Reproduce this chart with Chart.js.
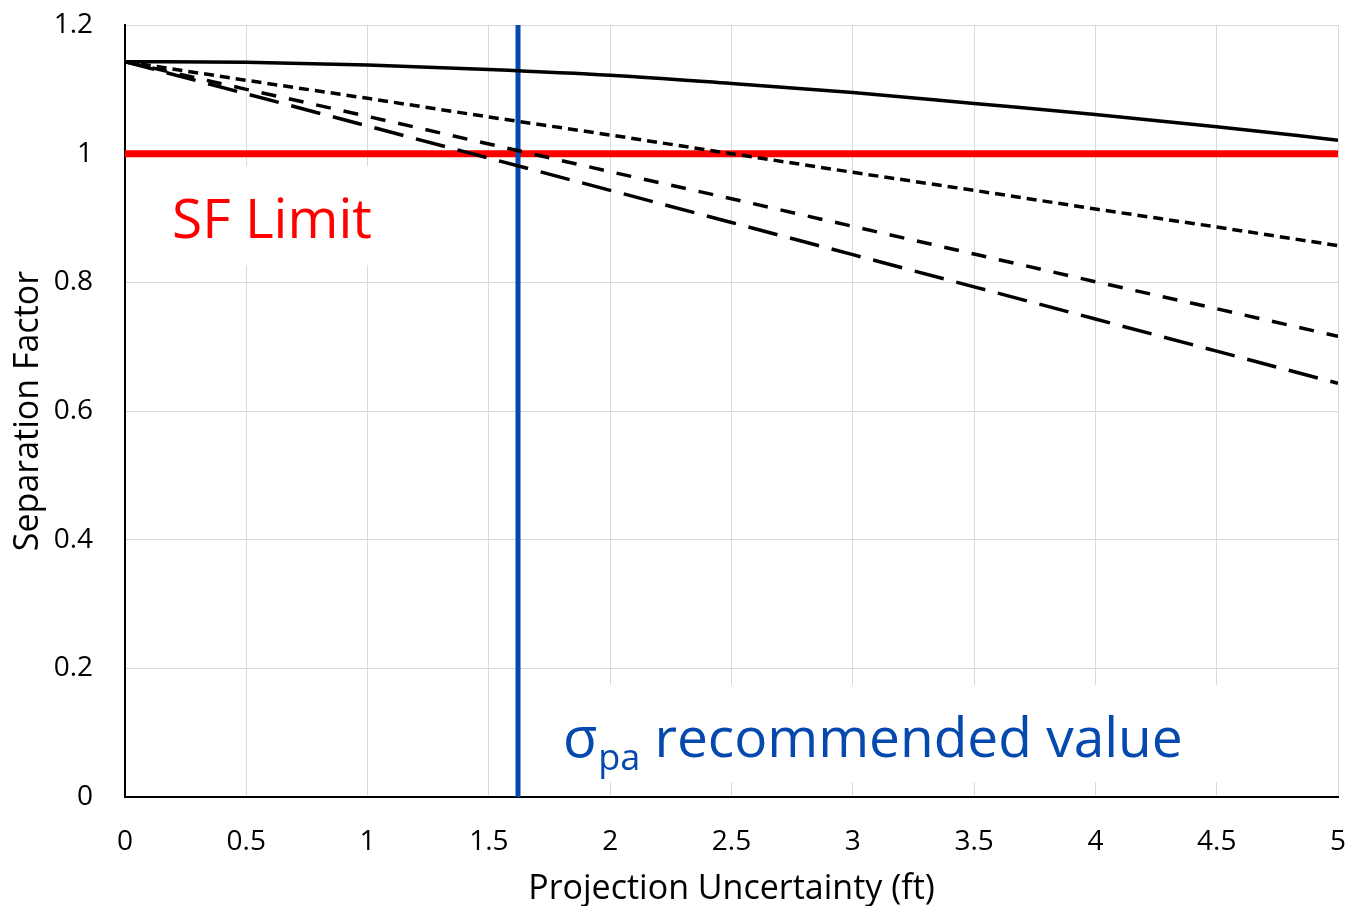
<!DOCTYPE html>
<html>
<head>
<meta charset="utf-8">
<script src="https://cdn.jsdelivr.net/npm/chart.js@4.4.1/dist/chart.umd.min.js"></script>
<style>
  html, body { margin: 0; padding: 0; background: #fff; }
  #wrap { width: 1347px; height: 906px; }
</style>
</head>
<body>
<div id="wrap"><canvas id="grafico"></canvas></div>
<script>
// Datos
const xVals = [0, 0.5, 1, 1.5, 2, 2.5, 3, 3.5, 4, 4.5, 5];
const sfSolid  = [1.143, 1.142, 1.138, 1.131, 1.122, 1.109, 1.095, 1.078, 1.061, 1.042, 1.021];
const sfDotted = [1.143, 1.114, 1.086, 1.057, 1.029, 1.000, 0.971, 0.943, 0.914, 0.886, 0.857];
const sfDashed = [1.143, 1.100, 1.058, 1.015, 0.972, 0.930, 0.887, 0.844, 0.801, 0.759, 0.716];
const sfLongDash = [1.143, 1.093, 1.043, 0.993, 0.943, 0.893, 0.843, 0.793, 0.743, 0.693, 0.643];
const sfLimit = 1;
const sigmaPa = 1.62;
const xTicks = [0, 0.5, 1, 1.5, 2, 2.5, 3, 3.5, 4, 4.5, 5];
const yTicks = [0, 0.2, 0.4, 0.6, 0.8, 1, 1.2];

const FONT = '"Open Sans", sans-serif';
const BLUE = '#0548AE';

function serie(vals) {
  return xVals.map((x, i) => ({ x: x, y: vals[i] }));
}

function etiqueta(v) {
  return String(Math.round(v * 10) / 10);
}

// Cajas de texto con fondo blanco (tapan la cuadrícula)
const anotaciones = {
  id: 'anotaciones',
  beforeDatasetsDraw(chart) {
    const ctx = chart.ctx;
    const xs = chart.scales.x, ys = chart.scales.y;
    ctx.save();
    ctx.fillStyle = '#fff';
    // caja SF Limit
    let x1 = xs.getPixelForValue(0.10), x2 = xs.getPixelForValue(1.09);
    let y1 = ys.getPixelForValue(0.981), y2 = ys.getPixelForValue(0.827);
    ctx.fillRect(x1, y1, x2 - x1, y2 - y1);
    // caja sigma
    x1 = xs.getPixelForValue(1.67); x2 = xs.getPixelForValue(4.84);
    y1 = ys.getPixelForValue(0.174); y2 = ys.getPixelForValue(0.023);
    ctx.fillRect(x1, y1, x2 - x1, y2 - y1);

    ctx.textBaseline = 'alphabetic';
    ctx.textAlign = 'left';
    ctx.fillStyle = '#FF0000';
    ctx.font = '55px ' + FONT;
    ctx.fillText('SF Limit', xs.getPixelForValue(0.194), ys.getPixelForValue(0.869));

    ctx.fillStyle = BLUE;
    let tx = xs.getPixelForValue(1.805);
    const by = ys.getPixelForValue(0.062);
    ctx.font = '56px ' + FONT;
    ctx.fillText('σ', tx, by);
    tx += ctx.measureText('σ').width + 1;
    ctx.font = '36px ' + FONT;
    ctx.fillText('pa', tx, by + 13);
    tx += ctx.measureText('pa').width;
    ctx.font = '55px ' + FONT;
    ctx.fillText(' recommended value', tx, by);
    ctx.restore();
  }
};

function sinRelleno(s) {
  s.paddingTop = 0; s.paddingBottom = 0; s.paddingLeft = 0; s.paddingRight = 0;
}

const ctx = document.getElementById('grafico').getContext('2d');
window.myChart = new Chart(ctx, {
  type: 'line',
  data: {
    datasets: [
      { data: serie(sfSolid), borderColor: '#000', borderWidth: 3.5, cubicInterpolationMode: 'monotone' },
      { data: serie(sfDotted), borderColor: '#000', borderWidth: 3.5, borderDash: [10, 6] },
      { data: serie(sfDashed), borderColor: '#000', borderWidth: 3.5, borderDash: [15, 13] },
      { data: serie(sfLongDash), borderColor: '#000', borderWidth: 3.5, borderDash: [30, 13] },
      { data: [{ x: sigmaPa, y: 0 }, { x: sigmaPa, y: 1.2 }], borderColor: BLUE, borderWidth: 5 },
      { data: [{ x: 0, y: sfLimit }, { x: 5, y: sfLimit }], borderColor: '#FF0000', borderWidth: 7 }
    ]
  },
  options: {
    responsive: true,
    maintainAspectRatio: false,
    animation: false,
    elements: { point: { radius: 0 }, line: { borderCapStyle: 'butt', fill: false } },
    layout: { padding: { top: 25, right: 9, bottom: 0, left: 0 } },
    plugins: { legend: { display: false }, tooltip: { enabled: false } },
    scales: {
      x: {
        type: 'linear', min: 0, max: 5,
        afterBuildTicks: (s) => { s.ticks = xTicks.map(v => ({ value: v })); },
        afterFit: (s) => { s.height = 109; sinRelleno(s); },
        grid: { color: '#D9D9D9', lineWidth: 1, drawTicks: false },
        border: { color: '#000', width: 2 },
        ticks: { color: '#000', font: { family: FONT, size: 28 }, padding: 28, maxRotation: 0,
                 callback: etiqueta },
        title: { display: true, text: 'Projection Uncertainty (ft)', color: '#000',
                 font: { family: FONT, size: 34, lineHeight: 1.0 }, padding: { top: 0, bottom: 0 } }
      },
      y: {
        type: 'linear', min: 0, max: 1.2,
        afterBuildTicks: (s) => { s.ticks = yTicks.map(v => ({ value: v })); },
        afterFit: (s) => { s.width = 125; sinRelleno(s); },
        grid: { color: '#D9D9D9', lineWidth: 1, drawTicks: false },
        border: { color: '#000', width: 2 },
        ticks: { color: '#000', font: { family: FONT, size: 28 }, padding: 32, callback: etiqueta },
        title: { display: true, text: 'Separation Factor', color: '#000',
                 font: { family: FONT, size: 34 }, padding: { top: 8, bottom: 0 } }
      }
    }
  },
  plugins: [anotaciones]
});
</script>
</body>
</html>
